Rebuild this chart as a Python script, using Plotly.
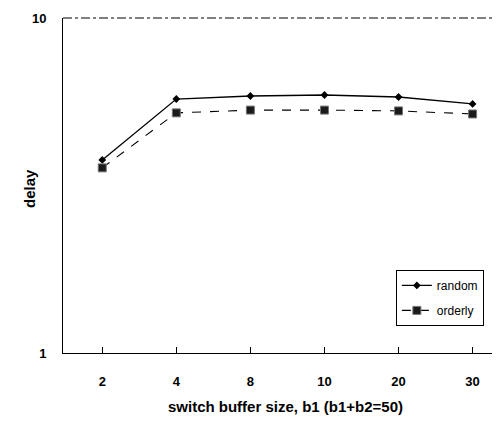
import plotly.graph_objects as go

categories = ["2", "4", "8", "10", "20", "30"]
random_delay = [3.77, 5.73, 5.85, 5.89, 5.81, 5.54]
orderly_delay = [3.57, 5.21, 5.31, 5.31, 5.28, 5.17]
y_ticks = [1, 10]

FF = "Liberation Sans, Arial, sans-serif"

fig = go.Figure()
fig.add_trace(go.Scatter(
    x=categories, y=random_delay, name="random", mode="lines+markers",
    legendgroup="a",
    line=dict(color="black", width=1.3),
    marker=dict(symbol="diamond", size=6, color="black")))
fig.add_trace(go.Scatter(
    x=categories, y=orderly_delay, name="orderly", mode="lines+markers",
    legendgroup="b",
    line=dict(color="black", width=1.1, dash="dash"),
    marker=dict(symbol="square", size=8, color="#1a1a1a", line=dict(color="#777", width=1))))

fig.update_layout(
    width=500, height=437,
    margin=dict(l=55, r=0, t=10, b=92, autoexpand=False),
    plot_bgcolor="white", paper_bgcolor="white",
    font=dict(family=FF, size=12, color="black"),
    showlegend=True,
    legend=dict(x=0.748, y=0.248, xanchor="left", yanchor="top",
                bordercolor="black", borderwidth=1, bgcolor="white",
                font=dict(family=FF, size=12, color="black"),
                traceorder="grouped", tracegroupgap=6,
                itemwidth=30),
    xaxis=dict(type="category", range=[-0.53, 5.478], automargin=False,
               showline=True, linecolor="black", linewidth=1,
               ticks="inside", ticklen=6, tickcolor="black",
               showgrid=False, zeroline=False,
               tickfont=dict(family=FF, size=13, color="black", weight="bold"),
               ticklabelstandoff=16,
               title=dict(text="<b>switch buffer size, b1 (b1+b2=50)</b>", standoff=13,
                          font=dict(family=FF, size=15, color="black"))),
    yaxis=dict(type="log", range=[0, 1], tickvals=y_ticks, ticktext=["<b>1</b>", "<b>10</b>"],
               automargin=False,
               showline=True, linecolor="black", linewidth=1,
               ticks="", showgrid=False, zeroline=False,
               ticklabelstandoff=13,
               tickfont=dict(family=FF, size=13, color="black")),
)
fig.add_annotation(text="<b>delay</b>", textangle=-90, xref="paper", yref="paper",
                   x=-0.074, y=0.49, xanchor="center", yanchor="middle", showarrow=False,
                   font=dict(family=FF, size=15, color="black"))
fig.add_shape(type="line", xref="paper", yref="paper", x0=0, x1=1, y0=1, y1=1,
              line=dict(color="black", width=1, dash="dashdot"))
fig.write_html("out.html")
